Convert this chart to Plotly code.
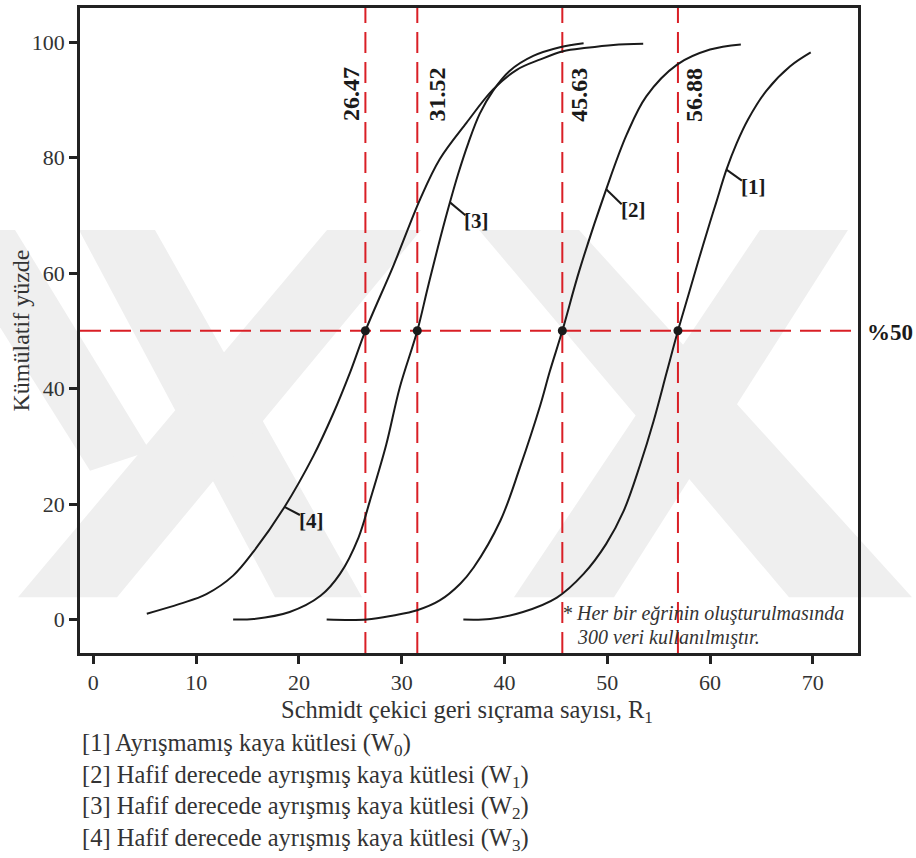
import plotly.graph_objects as go

# Cumulative distributions of Schmidt hammer rebound (R1) for four weathering grades
x_w0 = [36.0, 38.6, 41.8, 45.1, 47.7, 49.9, 51.6, 53.2, 54.5, 55.8, 56.88, 58.0, 59.0, 60.0, 60.6, 61.6, 62.6, 63.7, 65.5, 67.8, 69.8]
y_w0 = [0.0, 0.1, 1.3, 3.8, 7.9, 13.1, 18.8, 26.8, 34.3, 42.9, 50.0, 56.8, 62.9, 68.8, 72.2, 77.9, 82.5, 86.6, 91.6, 95.8, 98.2]

x_w1 = [22.7, 26.6, 29.2, 31.5, 33.7, 35.7, 37.0, 39.6, 41.5, 43.5, 44.4, 45.63, 47.3, 49.9, 51.9, 53.8, 56.8, 60.0, 63.0]
y_w1 = [0.0, 0.0, 0.7, 1.6, 3.3, 6.2, 9.0, 17.1, 26.3, 37.2, 42.9, 50.0, 60.5, 74.5, 84.0, 90.6, 96.1, 98.7, 99.6]

x_w2 = [13.6, 15.6, 19.1, 22.1, 24.0, 25.8, 26.9, 28.5, 29.8, 31.52, 32.5, 33.5, 34.5, 35.5, 36.5, 37.6, 38.9, 40.5, 42.8, 45.4, 47.7]
y_w2 = [0.0, 0.1, 1.3, 4.1, 7.9, 14.2, 20.5, 30.3, 40.1, 50.0, 57.2, 64.3, 71.0, 77.2, 82.6, 87.6, 91.6, 95.0, 97.6, 99.1, 99.8]

x_w3 = [5.2, 8.4, 11.0, 13.6, 15.6, 18.6, 21.4, 23.3, 25.0, 26.47, 29.2, 31.8, 33.7, 36.3, 38.9, 41.2, 43.5, 45.7, 48.0, 50.6, 53.5]
y_w3 = [1.0, 2.7, 4.4, 7.6, 11.8, 19.5, 28.3, 35.5, 42.9, 50.0, 61.3, 72.8, 79.7, 86.0, 91.8, 95.2, 97.0, 98.4, 99.0, 99.5, 99.7]

medians = [26.47, 31.52, 45.63, 56.88]
median_level = 50
curve_tags = ["[1]", "[2]", "[3]", "[4]"]
legend_lines = [
    "[1] Ayrışmamış kaya kütlesi (W<sub>0</sub>)",
    "[2] Hafif derecede ayrışmış kaya kütlesi (W<sub>1</sub>)",
    "[3] Hafif derecede ayrışmış kaya kütlesi (W<sub>2</sub>)",
    "[4] Hafif derecede ayrışmış kaya kütlesi (W<sub>3</sub>)",
]
x_ticks = [0, 10, 20, 30, 40, 50, 60, 70]
y_ticks = [0, 20, 40, 60, 80, 100]

X_RANGE = [-1.3, 74.4]
Y_RANGE = [-5.8, 105.9]

SERIF = "Liberation Serif, Times New Roman, serif"
RED = "#d91f26"
INK = "#1a1a1a"
TXT = "#333333"

W, H = 916, 858
ML, MR, MT, MB = 80, 58, 5, 205
PW, PH = W - ML - MR, H - MT - MB


def paper(px, py):
    return (px - ML) / PW, (MT + PH - py) / PH


fig = go.Figure()

# faint background emblem made of diagonal bands
bands = [
    [(-61, 228), (15, 228), (150, 450), (90, 470)],
    [(79, 228), (155, 228), (362, 597), (275, 597)],
    [(327, 228), (421, 228), (117, 597), (18, 597)],
    [(479, 228), (579, 228), (912, 597), (789, 597)],
    [(760, 228), (848, 228), (614, 597), (514, 597)],
]
for poly in bands:
    pts = [paper(*p) for p in poly]
    path = "M " + " L ".join(f"{a:.4f},{b:.4f}" for a, b in pts) + " Z"
    fig.add_shape(type="path", path=path, xref="paper", yref="paper",
                  fillcolor="#efefef", line=dict(width=0), layer="below")

# 50 % reference lines
fig.add_trace(go.Scatter(x=X_RANGE, y=[median_level, median_level], mode="lines",
                         line=dict(color=RED, width=2, dash="21px,9px"),
                         hoverinfo="skip", showlegend=False, cliponaxis=False))
for m in medians:
    fig.add_trace(go.Scatter(x=[m, m], y=Y_RANGE, mode="lines",
                             line=dict(color=RED, width=2, dash="21px,9px"),
                             hoverinfo="skip", showlegend=False))

# the four cumulative curves
for xs, ys in [(x_w0, y_w0), (x_w1, y_w1), (x_w2, y_w2), (x_w3, y_w3)]:
    fig.add_trace(go.Scatter(x=xs, y=ys, mode="lines",
                             line=dict(color=INK, width=2, shape="spline", smoothing=1.0),
                             hoverinfo="skip", showlegend=False))

# median points
fig.add_trace(go.Scatter(x=medians, y=[median_level] * len(medians), mode="markers",
                         marker=dict(color=INK, size=9), hoverinfo="skip", showlegend=False))

annotations = []

# rotated median values beside each vertical line
offsets = [-1.45, 1.9, 1.55, 1.5]
for m, off in zip(medians, offsets):
    annotations.append(dict(x=m + off, y=90.9, xref="x", yref="y", text=f"<b>{m:.2f}</b>",
                            textangle=-90, showarrow=False, xanchor="center", yanchor="middle",
                            font=dict(family=SERIF, size=24, color=INK)))

annotations.append(dict(x=paper(890, 0)[0], y=median_level, xref="paper", yref="y",
                        text="<b>%50</b>", showarrow=False, xanchor="center", yanchor="middle",
                        yshift=-2, font=dict(family=SERIF, size=23, color=INK)))

# curve tags with short leader lines (start on the curve at xa, end at the tag)
tag_specs = [
    ((x_w0, y_w0), 61.6, (63.1, 76.0)),
    ((x_w1, y_w1), 49.9, (51.4, 71.9)),
    ((x_w2, y_w2), 34.7, (36.2, 70.0)),
    ((x_w3, y_w3), 18.6, (20.1, 18.1)),
]
for tag, ((xs, ys), xa, end) in zip(curve_tags, tag_specs):
    ya = ys[0]
    for i in range(len(xs) - 1):
        if xs[i] <= xa <= xs[i + 1]:
            t = (xa - xs[i]) / (xs[i + 1] - xs[i])
            ya = ys[i] + t * (ys[i + 1] - ys[i])
            break
    fig.add_shape(type="line", x0=xa, y0=ya, x1=end[0], y1=end[1], xref="x", yref="y",
                  line=dict(color=INK, width=2))
    annotations.append(dict(x=end[0], y=end[1], xref="x", yref="y", text=f"<b>{tag}</b>",
                            showarrow=False, xanchor="left", yanchor="middle",
                            xshift=-3, yshift=-6,
                            font=dict(family=SERIF, size=21, color=INK)))

# footnote
annotations.append(dict(x=paper(560, 0)[0], y=paper(0, 613)[1], xref="paper", yref="paper",
                        text="<i>* Her bir eğrinin oluşturulmasında</i>", showarrow=False,
                        xanchor="left", yanchor="middle",
                        font=dict(family=SERIF, size=20, color=TXT)))
annotations.append(dict(x=paper(575, 0)[0], y=paper(0, 637)[1], xref="paper", yref="paper",
                        text="<i>300 veri kullanılmıştır.</i>", showarrow=False,
                        xanchor="left", yanchor="middle",
                        font=dict(family=SERIF, size=20, color=TXT)))

# axis titles
annotations.append(dict(x=paper(20, 0)[0], y=0.5, xref="paper", yref="paper",
                        text="Kümülatif yüzde", textangle=-90, showarrow=False,
                        xanchor="center", yanchor="middle",
                        font=dict(family=SERIF, size=24, color=TXT)))
annotations.append(dict(x=paper(467, 0)[0], y=paper(0, 712)[1], xref="paper", yref="paper",
                        text="Schmidt çekici geri sıçrama sayısı, R<sub>1</sub>", showarrow=False,
                        xanchor="center", yanchor="middle",
                        font=dict(family=SERIF, size=24.5, color=TXT)))

# legend lines under the chart
for text, py in zip(legend_lines, [745, 777, 808, 840]):
    annotations.append(dict(x=0, y=paper(0, py)[1], xref="paper", yref="paper", text=text,
                            showarrow=False, xanchor="left", yanchor="middle",
                            font=dict(family=SERIF, size=24.5, color=TXT)))

axis_common = dict(showline=True, linecolor="#222222", linewidth=2.5, mirror=True,
                   ticks="outside", ticklen=8, tickwidth=2.5, tickcolor="#222222",
                   showgrid=False, zeroline=False,
                   tickfont=dict(family=SERIF, size=22, color=TXT))

fig.update_layout(
    width=W, height=H,
    margin=dict(l=ML, r=MR, t=MT, b=MB),
    paper_bgcolor="white", plot_bgcolor="rgba(0,0,0,0)",
    xaxis=dict(range=X_RANGE, tickvals=x_ticks, **axis_common),
    yaxis=dict(range=Y_RANGE, tickvals=y_ticks, **axis_common),
    annotations=annotations,
    showlegend=False,
)

fig.write_html("out.html")
